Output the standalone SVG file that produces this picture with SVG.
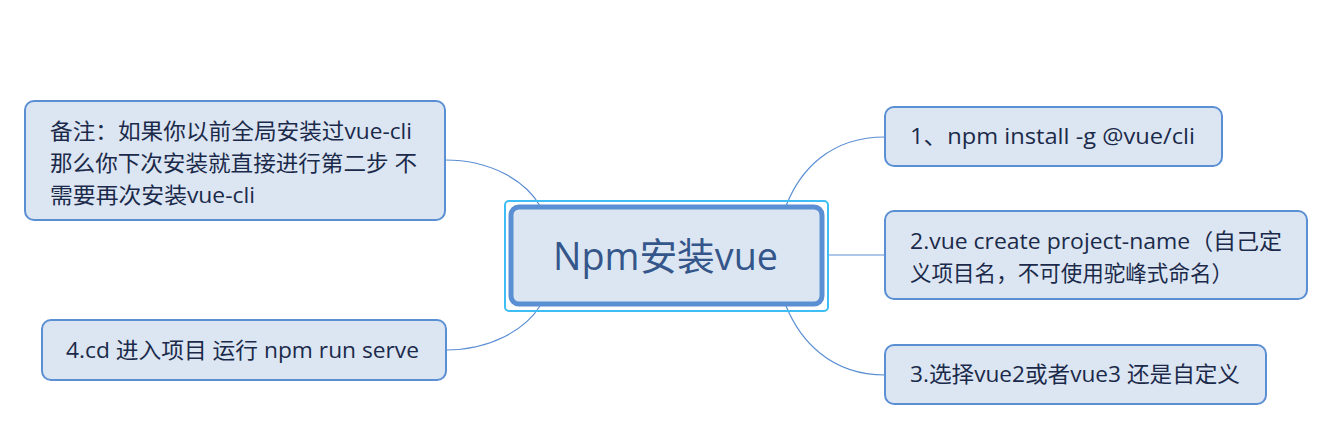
<svg xmlns="http://www.w3.org/2000/svg" width="1336" height="448" viewBox="0 0 1336 448">
<style>
.node{fill:#dce6f2;stroke:#5b8fd4;stroke-width:2}
.t{font-family:"Open Sans","Noto Sans CJK SC",sans-serif;font-size:22px;fill:#1b2a4a}
.c{fill:none;stroke:#5b8fd4;stroke-width:1.2}
</style>
<rect width="1336" height="448" fill="#ffffff"/>
<g id="connectors">
<path class="c" d="M786,206 C800,170 830,137 885,137"/>
<path class="c" d="M828,255 L885,255"/>
<path class="c" d="M786,306 C800,340 830,375 885,375"/>
<path class="c" d="M540,206 C525,180 490,160 445,160"/>
<path class="c" d="M540,306 C525,330 490,350 446,350"/>
</g>
<g id="central">
<rect x="505" y="201" width="323" height="110" rx="4" fill="none" stroke="#3fbdf5" stroke-width="2"/>
<rect x="511" y="207" width="311" height="97" rx="8" fill="#dce6f2" stroke="#5b8fd4" stroke-width="5"/>
<text x="553" y="270" textLength="225" lengthAdjust="spacingAndGlyphs" font-family="'Open Sans','Noto Sans CJK SC',sans-serif" font-size="38" fill="#34568a">Npm安装vue</text>
</g>
<g id="note">
<rect class="node" x="25" y="101" width="420" height="119" rx="9"/>
<text class="t" x="50" y="139" textLength="362" lengthAdjust="spacingAndGlyphs">备注：如果你以前全局安装过vue-cli</text>
<text class="t" x="50" y="171" textLength="367" lengthAdjust="spacingAndGlyphs">那么你下次安装就直接进行第二步 不</text>
<text class="t" x="50" y="203" textLength="205" lengthAdjust="spacingAndGlyphs">需要再次安装vue-cli</text>
</g>
<g id="step1">
<rect class="node" x="885" y="107" width="337" height="59" rx="9"/>
<text class="t" x="910" y="144" textLength="285" lengthAdjust="spacingAndGlyphs">1、npm install -g @vue/cli</text>
</g>
<g id="step2">
<rect class="node" x="885" y="211" width="422" height="88" rx="9"/>
<text class="t" x="910" y="249" textLength="372" lengthAdjust="spacingAndGlyphs">2.vue create project-name（自己定</text>
<text class="t" x="910" y="281" textLength="323" lengthAdjust="spacingAndGlyphs">义项目名，不可使用驼峰式命名）</text>
</g>
<g id="step3">
<rect class="node" x="885" y="345" width="381" height="59" rx="9"/>
<text class="t" x="910" y="382" textLength="330" lengthAdjust="spacingAndGlyphs">3.选择vue2或者vue3 还是自定义</text>
</g>
<g id="step4">
<rect class="node" x="42" y="320" width="404" height="60" rx="9"/>
<text class="t" x="66" y="358" textLength="353" lengthAdjust="spacingAndGlyphs">4.cd 进入项目 运行 npm run serve</text>
</g>
</svg>
